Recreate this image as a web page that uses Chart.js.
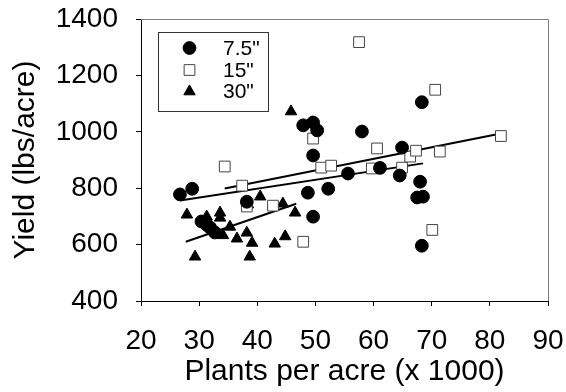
<!DOCTYPE html>
<html>
<head>
<meta charset="utf-8">
<script src="https://cdn.jsdelivr.net/npm/chart.js@4/dist/chart.umd.min.js"></script>
<style>
  html, body { margin: 0; padding: 0; background: #fff; }
</style>
</head>
<body>
<canvas id="chart" width="566" height="392"></canvas>
<script>
// Row spacing groups
const seriesNames = ['7.5"', '15"', '30"'];

// 7.5" rows (circles)
const x75 = [26.7, 28.8, 30.4, 31.3, 31.9, 32.7, 38.2, 47.9, 49.6, 50.3, 49.6, 48.7, 52.2, 49.6, 55.6, 58.0, 61.1, 64.9, 64.5, 68.0, 67.5, 68.5, 68.3, 68.3];
const y75 = [778, 798, 682, 670, 660, 643, 752, 1023, 1033, 1005, 916, 784, 798, 699, 852, 1001, 872, 944, 845, 823, 767, 770, 1105, 596];

// 15" rows (open squares)
const x15 = [34.4, 37.4, 38.2, 42.7, 47.9, 49.6, 51.0, 52.7, 57.5, 59.7, 60.6, 64.9, 66.3, 67.3, 70.1, 70.6, 71.4, 81.9];
const y15 = [877, 809, 735, 738, 610, 976, 873, 880, 1318, 870, 941, 873, 912, 933, 652, 1149, 930, 985];

// 30" rows (triangles)
const x30 = [27.9, 29.3, 31.3, 33.6, 33.6, 34.1, 35.3, 36.5, 38.2, 38.4, 38.7, 39.1, 40.5, 43.0, 44.4, 44.8, 45.8, 46.5];
const y30 = [706, 557, 699, 713, 695, 633, 663, 621, 642, 742, 557, 606, 770, 603, 745, 629, 1072, 713];

// regression line end points
const fitX75 = [26.7, 68.5], fitY75 = [756, 888];
const fitX15 = [34.4, 81.9], fitY15 = [799, 994];
const fitX30 = [27.7, 46.7], fitY30 = [610, 745];

const xTicks = [20, 30, 40, 50, 60, 70, 80, 90];
const yTicks = [400, 600, 800, 1000, 1200, 1400];

function pts(xs, ys) {
    return xs.map((x, i) => ({ x: x, y: ys[i] }));
}

const FONT = '"Liberation Sans", Arial, sans-serif';
Chart.defaults.font.family = FONT;
Chart.defaults.color = '#000';

function fitLine(xs, ys) {
    return {
        type: 'line', data: pts(xs, ys), borderColor: '#000', borderWidth: 2,
        pointRadius: 0, fill: false, order: 10
    };
}

// keep the plot box where it is in the original
function noPad(s) {
    s.paddingTop = 0; s.paddingBottom = 0; s.paddingLeft = 0; s.paddingRight = 0;
}

// grey frame on top and right
const framePlugin = {
    id: 'frame',
    beforeDatasetsDraw(chart) {
        const { ctx, chartArea: a } = chart;
        ctx.save();
        ctx.strokeStyle = '#7f7f7f';
        ctx.lineWidth = 1;
        ctx.beginPath();
        ctx.moveTo(a.left, a.top + 0.5);
        ctx.lineTo(a.right + 0.5, a.top + 0.5);
        ctx.lineTo(a.right + 0.5, a.bottom);
        ctx.stroke();
        ctx.restore();
    }
};

// boxed legend inside the plot
const legendPlugin = {
    id: 'boxLegend',
    afterDraw(chart) {
        const ctx = chart.ctx;
        ctx.save();
        ctx.strokeStyle = '#333';
        ctx.lineWidth = 1;
        ctx.strokeRect(158.5, 32.5, 110, 79);
        ctx.font = '21px ' + FONT;
        ctx.textBaseline = 'middle';
        ctx.textAlign = 'left';
        const rows = [48, 70, 91.5];
        for (let i = 0; i < 3; i++) {
            const ds = chart.data.datasets[i];
            ctx.fillStyle = ds.backgroundColor;
            ctx.strokeStyle = ds.borderColor;
            ctx.lineWidth = ds.borderWidth;
            Chart.helpers.drawPoint(ctx, {
                pointStyle: ds.pointStyle, radius: ds.pointRadius, rotation: 0, borderWidth: ds.borderWidth
            }, 189.5, rows[i]);
            ctx.fillStyle = '#000';
            ctx.fillText(seriesNames[i], 223, rows[i] + 1);
        }
        ctx.restore();
    }
};

new Chart(document.getElementById('chart'), {
    type: 'scatter',
    data: {
        datasets: [
            { label: seriesNames[0], data: pts(x75, y75), pointStyle: 'circle', pointRadius: 6.4,
              backgroundColor: '#000', borderColor: '#000', borderWidth: 1, order: 1 },
            { label: seriesNames[1], data: pts(x15, y15), pointStyle: 'rect', pointRadius: 7.6,
              backgroundColor: '#fff', borderColor: '#444', borderWidth: 1, order: 2 },
            { label: seriesNames[2], data: pts(x30, y30), pointStyle: 'triangle', pointRadius: 6.6,
              backgroundColor: '#000', borderColor: '#000', borderWidth: 1, order: 3 },
            fitLine(fitX75, fitY75),
            fitLine(fitX15, fitY15),
            fitLine(fitX30, fitY30)
        ]
    },
    options: {
        responsive: false,
        animation: false,
        layout: { autoPadding: false, padding: { left: 0, right: 18, top: 19, bottom: 0 } },
        plugins: { legend: { display: false }, tooltip: { enabled: false } },
        elements: { point: { hoverRadius: 0 } },
        scales: {
            x: {
                type: 'linear', min: 20, max: 90,
                afterBuildTicks: s => { s.ticks = xTicks.map(v => ({ value: v })); },
                ticks: { font: { size: 28 }, padding: 18, color: '#000', callback: v => String(v) },
                grid: { drawOnChartArea: false, tickLength: 5, color: '#000' },
                border: { color: '#000' },
                title: { display: true, text: 'Plants per acre (x 1000)', font: { size: 30 }, color: '#000',
                         padding: { top: 0, bottom: 2 } },
                afterFit: s => { s.height = 91; noPad(s); }
            },
            y: {
                type: 'linear', min: 400, max: 1400,
                afterBuildTicks: s => { s.ticks = yTicks.map(v => ({ value: v })); },
                ticks: { font: { size: 28 }, padding: 18, color: '#000', callback: v => String(v) },
                grid: { drawOnChartArea: false, tickLength: 5, color: '#000' },
                border: { color: '#000' },
                title: { display: true, text: 'Yield (lbs/acre)', font: { size: 30 }, color: '#000',
                         padding: { top: 8, bottom: 0 } },
                afterFit: s => { s.width = 141; noPad(s); }
            }
        }
    },
    plugins: [framePlugin, legendPlugin]
});
</script>
</body>
</html>
